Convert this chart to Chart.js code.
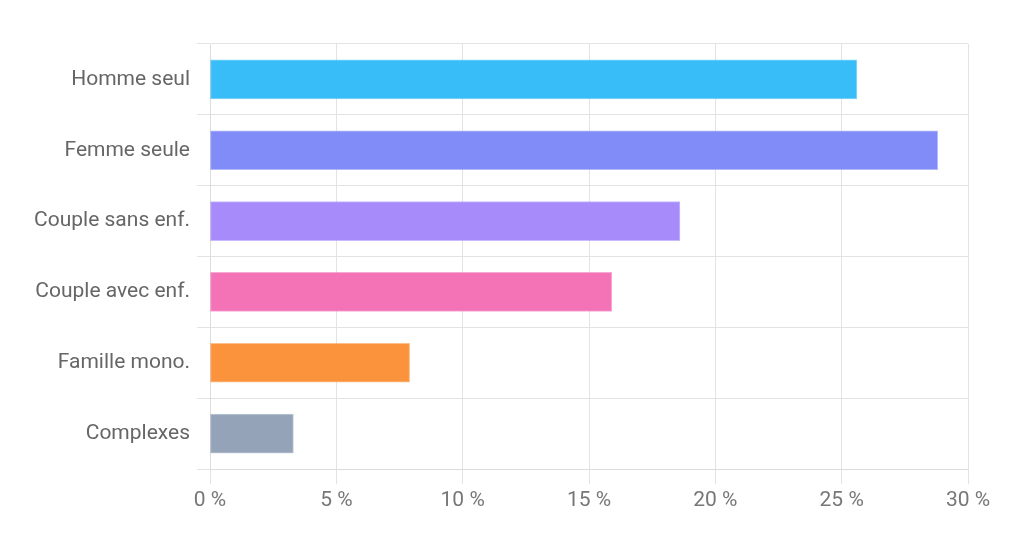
<!DOCTYPE html>
<html lang="fr">
<head>
  <meta charset="UTF-8">
  <title>Types de ménages</title>
  <script src="https://cdn.jsdelivr.net/npm/chart.js"></script>
  <style>
    html, body { margin: 0; padding: 0; background: #fff; }
  </style>
</head>
<body>

<canvas id="myChart" width="1024" height="547"></canvas>

<script>
  const categories = ["Homme seul", "Femme seule", "Couple sans enf.", "Couple avec enf.", "Famille mono.", "Complexes"];
  const shares = [25.6, 28.8, 18.6, 15.9, 7.9, 3.3];
  const barColors = ["#38bdf8", "#818cf8", "#a78bfa", "#f472b6", "#fb923c", "#94a3b8"];
  const xTicks = [0, 5, 10, 15, 20, 25, 30];

  const ctx = document.getElementById('myChart').getContext('2d');

  const myChart = new Chart(ctx, {
    type: 'bar',
    data: {
      labels: categories,
      datasets: [{
        data: shares,
        backgroundColor: barColors,
        borderColor: barColors.map(c => c + '99'),
        borderWidth: 1,
        borderSkipped: false,
        barThickness: 39
      }]
    },
    options: {
      indexAxis: 'y',
      responsive: false,
      animation: false,
      layout: { padding: { top: 44, right: 56, left: 0, bottom: 0 } },
      plugins: {
        legend: { display: false },
        tooltip: { enabled: false }
      },
      scales: {
        x: {
          min: 0,
          max: 30,
          afterBuildTicks: scale => { scale.ticks = xTicks.map(v => ({ value: v })); },
          afterFit: scale => { scale.height = 547 - 469; },
          grid: { color: '#e3e3e3', tickLength: 15 },
          border: { color: '#dcdcdc' },
          ticks: {
            padding: 4,
            color: '#777',
            font: { family: 'Roboto', size: 21 },
            callback: v => v + ' %'
          }
        },
        y: {
          afterFit: scale => { scale.width = 210; },
          grid: { color: '#e3e3e3', tickLength: 13 },
          border: { color: '#dcdcdc' },
          ticks: {
            padding: 7,
            color: '#666',
            font: { family: 'Roboto', size: 21 }
          }
        }
      }
    }
  });
</script>

</body>
</html>
